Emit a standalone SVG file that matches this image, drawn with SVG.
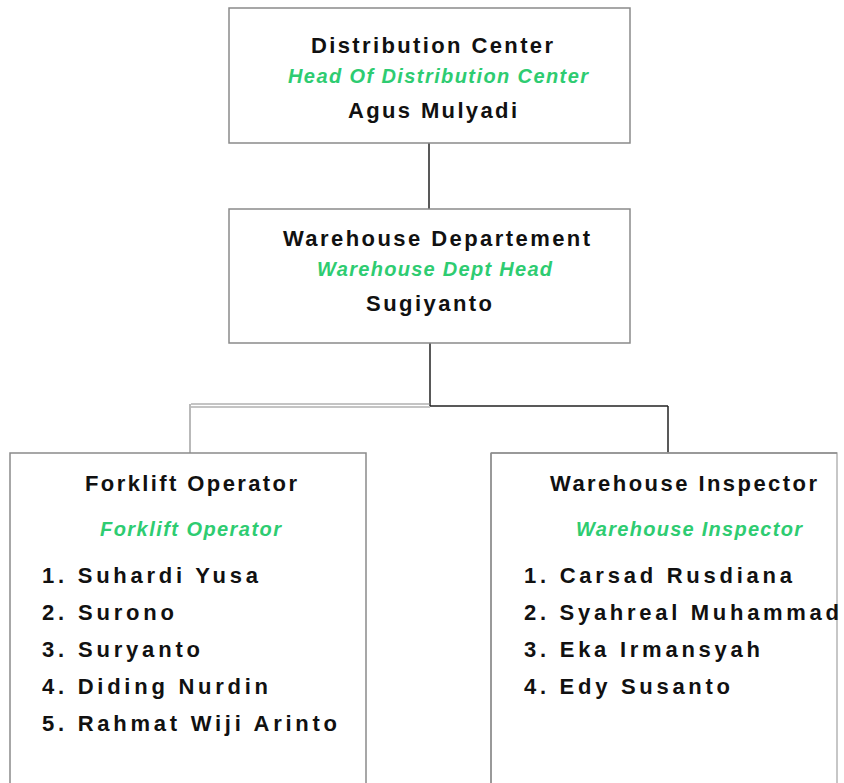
<svg xmlns="http://www.w3.org/2000/svg" width="844" height="783" viewBox="0 0 844 783">
  <style>
    .box { fill: #ffffff; stroke: #8a8a8a; stroke-width: 1.5; }
    .t { font-family: "Liberation Sans", Arial, sans-serif; font-weight: bold; font-size: 22px; fill: #111111; }
    .g { font-family: "Liberation Sans", Arial, sans-serif; font-weight: bold; font-style: italic; font-size: 20px; fill: #2ecc71; }
    .link { stroke: #222222; stroke-width: 1.5; fill: none; }
    .link-soft { stroke: #8a8a8a; stroke-width: 1.2; fill: none; }
  </style>
  <rect width="844" height="783" fill="#ffffff"/>

  <g id="connectors">
    <line class="link" x1="429" y1="143" x2="429" y2="209"/>
    <line class="link" x1="430" y1="343" x2="430" y2="406"/>
    <line class="link" x1="430" y1="406" x2="668" y2="406"/>
    <line class="link" x1="668" y1="406" x2="668" y2="453"/>
    <line class="link-soft" x1="191" y1="404" x2="430" y2="404"/>
    <line class="link-soft" x1="191" y1="407" x2="430" y2="407"/>
    <line class="link-soft" x1="190" y1="404" x2="190" y2="453"/>
  </g>

  <g id="distribution-center">
    <rect class="box" x="229" y="8" width="401" height="135"/>
    <text class="t" x="311" y="53" textLength="242" lengthAdjust="spacing">Distribution Center</text>
    <text class="g" x="288" y="83" textLength="300" lengthAdjust="spacing">Head Of Distribution Center</text>
    <text class="t" x="348" y="118" textLength="169" lengthAdjust="spacing">Agus Mulyadi</text>
  </g>

  <g id="warehouse-department">
    <rect class="box" x="229" y="209" width="401" height="134"/>
    <text class="t" x="283" y="246" textLength="307" lengthAdjust="spacing">Warehouse Departement</text>
    <text class="g" x="317" y="276" textLength="235" lengthAdjust="spacing">Warehouse Dept Head</text>
    <text class="t" x="366" y="311" textLength="126" lengthAdjust="spacing">Sugiyanto</text>
  </g>

  <g id="forklift-operator">
    <rect class="box" x="10" y="453" width="356" height="340"/>
    <text class="t" x="85" y="491" textLength="212" lengthAdjust="spacing">Forklift Operator</text>
    <text class="g" x="100" y="536" textLength="181" lengthAdjust="spacing">Forklift Operator</text>
    <text class="t" x="42" y="583" textLength="216" lengthAdjust="spacing">1. Suhardi Yusa</text>
    <text class="t" x="42" y="620" textLength="132" lengthAdjust="spacing">2. Surono</text>
    <text class="t" x="42" y="657" textLength="158" lengthAdjust="spacing">3. Suryanto</text>
    <text class="t" x="42" y="694" textLength="226" lengthAdjust="spacing">4. Diding Nurdin</text>
    <text class="t" x="42" y="731" textLength="295" lengthAdjust="spacing">5. Rahmat Wiji Arinto</text>
  </g>

  <g id="warehouse-inspector">
    <rect class="box" x="491" y="453" width="346" height="340" style="stroke:#b5b5b5"/>
    <line x1="491" y1="453" x2="837" y2="453" stroke="#8a8a8a" stroke-width="1.5"/>
    <line x1="491" y1="453" x2="491" y2="783" stroke="#8a8a8a" stroke-width="1.5"/>
    <text class="t" x="550" y="491" textLength="267" lengthAdjust="spacing">Warehouse Inspector</text>
    <text class="g" x="576" y="536" textLength="226" lengthAdjust="spacing">Warehouse Inspector</text>
    <text class="t" x="524" y="583" textLength="268" lengthAdjust="spacing">1. Carsad Rusdiana</text>
    <text class="t" x="524" y="620" textLength="315" lengthAdjust="spacing">2. Syahreal Muhammad</text>
    <text class="t" x="524" y="657" textLength="236" lengthAdjust="spacing">3. Eka Irmansyah</text>
    <text class="t" x="524" y="694" textLength="206" lengthAdjust="spacing">4. Edy Susanto</text>
  </g>
</svg>
